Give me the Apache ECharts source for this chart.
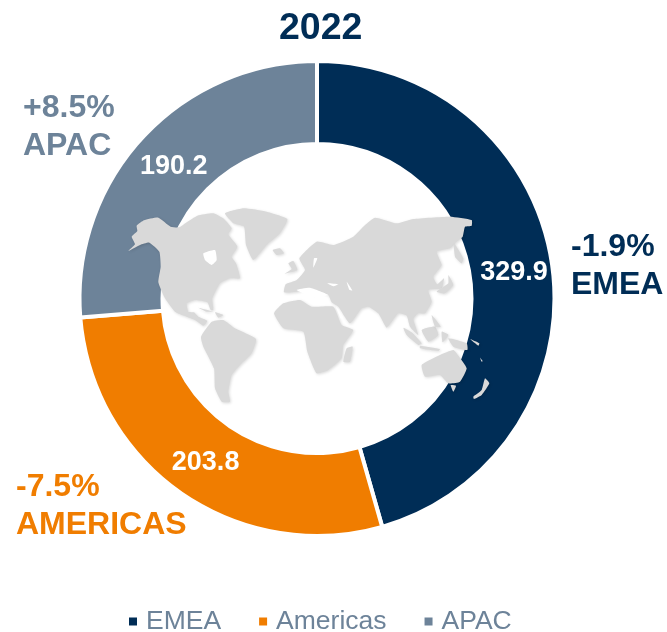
<!DOCTYPE html>
<html lang='en'>
<head>
  <meta charset='UTF-8'>
  <title>2022</title>
  <script src="https://cdn.jsdelivr.net/npm/echarts@6/dist/echarts.min.js"></script>
  <style>
    html, body { margin: 0; padding: 0; width: 100%; height: 100%; background: #fff; }
    #chart { width: 667px; height: 632px; }
  </style>
</head>
<body>
  <div id="chart"></div>
  <script>
    const regions = ['EMEA', 'Americas', 'APAC']
    const revenue = [329.9, 203.8, 190.2]
    const changes = ['-1.9%', '-7.5%', '+8.5%']
    const regionLabels = ['EMEA', 'AMERICAS', 'APAC']
    const colors = ['#002d56', '#f07d00', '#6d8399']

    // background picture: rough world outline, traced in crop pixels (3x, crop origin 120,195)
    const land = [
      [[25,168],[45,148],[35,125],[52,108],[50,92],[72,76],[115,68],[152,95],[178,97],[200,82],[232,62],[280,55],[312,72],[335,100],[325,118],[352,155],[335,185],[348,205],[360,250],[330,250],[300,265],[277,310],[280,345],[272,345],[262,322],[225,315],[200,325],[205,350],[222,352],[235,365],[262,377],[250,392],[225,375],[200,365],[165,350],[135,310],[115,262],[122,215],[118,170],[88,143],[60,150]],
      [[315,55],[370,40],[440,50],[502,72],[480,115],[440,150],[400,195],[378,150],[372,95],[340,85]],
      [[458,165],[480,160],[492,175],[470,180]],
      [[505,205],[520,198],[532,225],[494,236],[515,222]],
      [[243,425],[275,380],[310,375],[345,400],[408,432],[395,475],[360,510],[335,540],[325,590],[330,620],[305,620],[285,580],[282,520],[250,455]],
      [[462,355],[490,325],[540,315],[575,335],[640,335],[665,390],[700,405],[670,450],[665,490],[625,525],[590,535],[562,470],[550,410],[490,400]],
      [[680,460],[698,455],[690,500],[670,500]],
      [[492,292],[497,268],[530,255],[555,225],[538,190],[590,140],[640,150],[700,125],[735,90],[765,68],[830,85],[880,72],[990,65],[1055,75],[1055,92],[1035,95],[1028,125],[1010,140],[990,160],[950,170],[965,210],[940,245],[952,268],[972,250],[965,280],[925,285],[935,320],[915,355],[895,355],[880,372],[895,420],[870,395],[860,362],[835,355],[800,398],[775,355],[745,335],[725,340],[690,385],[655,335],[635,322],[625,300],[600,290],[580,297],[550,285],[530,290]],
      [[1002,145],[1030,190],[1025,205],[1005,185]],
      [[985,240],[1000,270],[975,295],[950,290],[985,265]],
      [[850,398],[875,412],[905,445],[895,450],[860,420]],
      [[900,452],[960,462],[955,468],[900,460]],
      [[905,405],[945,395],[955,420],[925,440]],
      [[965,410],[985,420],[968,442]],
      [[985,430],[1040,445],[1042,465],[1000,455]],
      [[935,360],[962,395],[945,395]],
      [[905,510],[960,480],[1000,465],[1015,482],[1040,520],[1020,560],[985,565],[960,540],[915,545]],
      [[992,570],[1008,572],[1000,590]],
      [[1095,550],[1108,565],[1085,600],[1062,612],[1060,605],[1085,585]],
      [[1080,488],[1088,498],[1085,500]],
      [[1050,432],[1078,445],[1075,452]],
      [[235,338],[280,350],[260,350]],
      [[285,352],[310,360],[295,368]]
    ]
    const waters = [
      [[250,175],[285,165],[290,195],[275,210],[255,195]],
      [[530,285],[570,278],[625,300],[580,306]],
      [[622,265],[655,268],[640,274]],
      [[680,260],[697,286],[688,284]],
      [[648,335],[668,368],[662,370]],
      [[582,190],[592,190],[580,218]]
    ]
    const labelShift = [[0, 2], [2, 1], [3, 3]]

    const mapShapes = land.map(points => ({
      type: 'polygon',
      z: 50,
      shape: { points: points, smooth: 0.15 },
      style: { fill: '#d9d9d9', shadowBlur: 3, shadowOffsetX: 1, shadowOffsetY: 1, shadowColor: 'rgba(0,0,0,0.15)' }
    })).concat(waters.map(points => ({
      type: 'polygon',
      z: 50,
      shape: { points: points, smooth: 0.15 },
      style: { fill: '#fff' }
    })))

    function sideLabel (i, x, y) {
      const style = { fill: colors[i], font: 'bold 32px "Liberation Sans", Arial, sans-serif' }
      return [
        { type: 'text', left: x, top: y, z: 100, style: Object.assign({ text: changes[i] }, style) },
        { type: 'text', left: x, top: y + 38, z: 100, style: Object.assign({ text: regionLabels[i] }, style) }
      ]
    }

    const chart = echarts.init(document.getElementById('chart'))
    chart.setOption({
      animation: false,
      color: colors,
      textStyle: { fontFamily: '"Liberation Sans", Arial, sans-serif' },
      title: {
        text: '2022',
        left: 274,
        top: 5,
        textStyle: { color: colors[0], fontSize: 37.5, fontWeight: 'bold' }
      },
      legend: {
        left: 122,
        top: 603,
        itemWidth: 10,
        itemHeight: 10,
        itemGap: 36,
        icon: 'rect',
        data: regions,
        textStyle: { color: '#6d8399', fontSize: 26.5, padding: [0, 0, 0, 3] }
      },
      series: [
        {
          type: 'pie',
          center: [317, 298.5],
          radius: [154.5, 237.5],
          startAngle: 90,
          clockwise: true,
          silent: true,
          z: 2,
          itemStyle: { borderColor: '#fff', borderWidth: 4 },
          label: {
            position: 'inside',
            color: '#fff',
            fontSize: 27,
            fontWeight: 'bold',
            formatter: p => p.value.toFixed(1)
          },
          labelLine: { show: false },
          labelLayout: p => ({ dx: labelShift[p.dataIndex][0], dy: labelShift[p.dataIndex][1] }),
          data: regions.map((name, i) => ({ name: name, value: revenue[i] }))
        }
      ],
      graphic: [
        { type: 'group', x: 120, y: 195, scaleX: 1 / 3, scaleY: 1 / 3, silent: true, z: 50, children: mapShapes }
      ].concat(sideLabel(0, 571, 231), sideLabel(1, 16, 471), sideLabel(2, 23, 92))
    })

    window.addEventListener('resize', () => chart.resize())
  </script>
</body>
</html>
